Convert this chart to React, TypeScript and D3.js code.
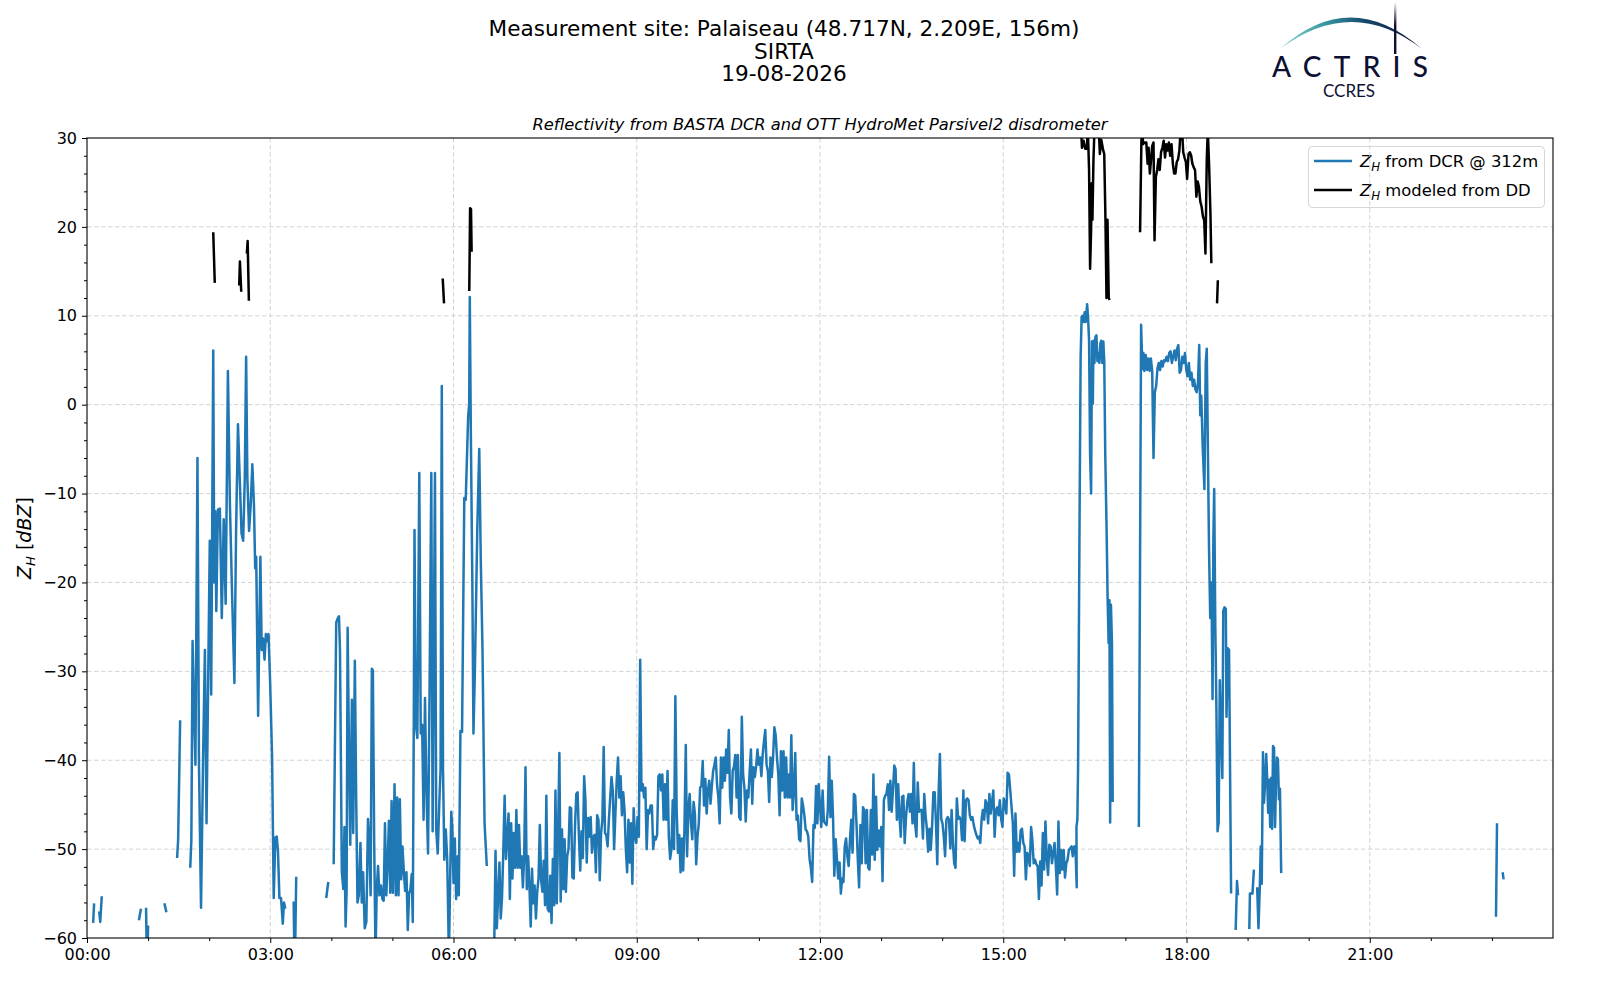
import { useEffect, useRef } from 'react';
import * as d3 from 'd3';

type Pt = [number, number] | null;

const titleLines = ['Measurement site: Palaiseau (48.717N, 2.209E, 156m)', 'SIRTA', '19-08-2026'];
const subtitle = 'Reflectivity from BASTA DCR and OTT HydroMet Parsivel2 disdrometer';
const hourTicks = [0, 3, 6, 9, 12, 15, 18, 21];
const dbzTicks = [-60, -50, -40, -30, -20, -10, 0, 10, 20, 30];
const legendLabels = ['from DCR @ 312m', 'modeled from DD'];

// DCR reflectivity at 312 m, [minutes since 00:00 UTC, dBZ], null = gap
const dcrNight: Pt[] = [
  [6, -58.3], [7, -56.1], null,
  [12, -57], [13, -58.2], [14.5, -55.3], null,
  [51, -58], [53, -56.7], null,
  [58, -56.6], [59, -64], [60, -58.6], null,
  [76, -56.1], [78, -57.1], null,
  [88.5, -51], [89.5, -49], [91.5, -35.5], null,
  [101.4, -52.1], [102.5, -49], [103.7, -26.6], [105, -33.9], [106.5, -40.5], [108.5, -6], [110, -40.5],
  [112, -56.6], [114, -40], [115.8, -27.6], [117.4, -47.1], [120.6, -15.3], [122, -32.6], [124, 6.1],
  [125, -20], [126, -12], [127, -23.2], [128.6, -11.8], [130.5, -11.7], [132.4, -24], [134.3, -12.9],
  [136.2, -22.4], [138.4, 3.8], [140.4, -11.3], [142.5, -21.3], [144.8, -31.3], [146.4, -14.5],
  [148.3, -2.2], [150, -8.2], [151.8, -14.5], [153.4, -15.3], [155, -8.2], [156.3, 5.4], [157.5, -8.2],
  [159.2, -14.2], [160.8, -11.3], [162.4, -6.7], [164, -11.3], [165.2, -18.4], [166.2, -17.1],
  [168.1, -35], [170.3, -17.1], [171.6, -27.6], [172.9, -26.3], [174.4, -28.7], [175.7, -25.8],
  [177, -26.6], [178.3, -25.8], [179.9, -31.3], [181.8, -39.7], [183.4, -55.5], [185, -48.7],
  [186.4, -48.6], [187.6, -50.3], [189, -55.5], [190.6, -55.5], [192.3, -58.4], [193.5, -56], [194.8, -56.7], null,
  [203, -55.9], [204, -65], [205.5, -53.1], null,
  [235, -55.5], [237, -53.7], null,
  [242.3, -51.7], [244.8, -24.5], [246.5, -24], [247.5, -23.8], [248.5, -27.6], [250.3, -52.5],
  [251.8, -54.5], [252.9, -47.5], [254, -58.7], [255, -54.7], [256, -25.1], [257.3, -38.3],
  [258.6, -49.5], [260.2, -33.2], [261.5, -48.2], [263.1, -28.8], [264.4, -44.2], [265.7, -56],
  [267, -55.2], [268.6, -49.3], [269.9, -56], [271.2, -52.6], [272.8, -58.9], [274.4, -58.2],
  [276, -46.6], [277.3, -49.5], [278.6, -55.2], [279.8, -29.7], [280.8, -29.9], [282.1, -49.3],
  [283.4, -62], [284.6, -54.5], [285.9, -51.9], [287.2, -55.2], [288.8, -54.1], [290.1, -55.6],
  [291.4, -55.8], [292.7, -47.1], [294, -55.2], [295.3, -51.5], [296.6, -46.8], [297.9, -54.9],
  [299.2, -44.6], [300.5, -54.9], [302.1, -42.7], [303.4, -55.2], [304.7, -44.2], [306, -55.2],
  [307.3, -44.4], [308.6, -53.4], [309.9, -49.7], [311.2, -52.5], [312.5, -54.7], [313.8, -52.6],
  [315.1, -59.1], [316.4, -55], [317.7, -54.5], [319, -52.8], [320, -58.2], [321, -35.4],
  [321.7, -14.1], [323, -36], [324.5, -37.5], [326.4, -7.7], [327.8, -37], [329.2, -36],
  [330.6, -46.7], [332, -33], [333.5, -44], [335, -50.5], [336.5, -32], [338.2, -7.7], [339.5, -48],
  [341.8, -7.7], [343, -47.8], [344.5, -50.5], [346, -45], [347.3, -41], [348.5, 2.1], [349.7, -41],
  [351, -51.2], [352.4, -47.8], [353.8, -51], [355.5, -62], [357.8, -45.8], [358.8, -47.5],
  [360, -53.8], [361.3, -48.8], [362.6, -55.6], [364.2, -50.8], [365.2, -55.2], [366.8, -36.7],
  [368.4, -36.8], [370.6, -10.5], [372, -10.7], [374.4, -1.3], [375.4, 0], [376, 12.1], [377, -2.8],
  [378.5, -20], [379.6, -37], [381, -30], [383.4, -13.8], [385.3, -5], [386.8, -17.5], [388.5, -27.6],
  [390.5, -47.1], [392.7, -51.9],
];

// regular 1.28 min samples of the drizzle from 06:40 to 16:11
const drizzleStart = 400;
const drizzleStep = 1.28;
const dcrDrizzle: number[] = [
  -61, -50.2, -58.9, -55.2, -51.5, -57.8, -55.4, -50, -44, -51.1, -48.6, -46, -55.6, -47.1, -53.3, -48.2,
  -52.1, -45.6, -52.1, -47.3, -52.1, -50.8, -54.3, -50.8, -40.8, -54.5, -50.8, -54.1, -58.7, -52.2,
  -56.1, -54.1, -57.8, -54.8, -53.3, -47.3, -53.5, -54.8, -51.3, -56.3, -44, -56.7, -57, -53, -58.3,
  -51.1, -56.3, -43.4, -56.1, -48.2, -39.2, -55.9, -47.8, -54.5, -48.9, -54.8, -50.8, -50, -45.3,
  -45.4, -53.2, -53.3, -47.4, -43.8, -43.6, -48.6, -52.4, -48, -51,
  -41.8, -44.5, -51.5, -46.5, -48.6, -46.4, -50.4, -48.6, -48.4, -52.6, -46.2, -46.7, -53.5, -48.2,
  -46.7, -38.5, -48.2, -48.4, -49.7, -46.7, -44.2, -41.9, -43.4, -50, -46, -42.3, -39.7, -44.2, -41.8,
  -46.2, -43.6, -45.6, -50, -52.6, -46.7, -51.5, -47.1, -53.9, -45.4, -48.6, -49.3, -46.4, -48.6,
  -28.7, -43.4, -42.7, -44.2, -43.1, -50, -45.6, -46, -45.1, -45.1, -50, -48.6, -48.9, -48.4, -41.8,
  -41.6, -43.4, -41.6, -46.7, -42.7, -46.7, -41.2, -48.6, -51.1, -50, -44.5, -50, -32.8, -45.6, -50.4,
  -48.4, -52.6, -48.8, -52.4, -47.6, -38.3, -50.8, -45.4, -43.8, -47.1, -48.9, -44.7, -46, -51.7,
  -48.6, -47.1, -43.1, -42.9, -40.1, -45.1, -42.1, -46, -43.4, -42.3, -44.9, -42.9, -41.2, -40.5,
  -39.7, -42.7, -44.2, -47.1, -39.7, -43.1, -39.7, -42.3, -38.8, -41.4, -36.6, -44.2, -46, -41.2,
  -40.7, -39.4, -44.2, -39.4, -46.4, -46.7, -35.1, -41.6, -43.1, -46.9, -43.4, -44.2, -41.4, -38.8,
  -44.9, -40.8, -41.9, -40.7, -38.8, -40.5, -39.7, -41.8, -39.4, -37.9, -36.6, -40.5, -41.2, -44.7,
  -39.7, -41.9, -39.6, -36.3, -37.2, -39.7, -41.6, -46.2, -39, -43.4, -39, -44.2, -39.7, -44.2,
  -41.6, -44.2, -37.2, -45.6, -43.4, -39.2, -46.7, -46.2, -48.9, -49.1, -44.3, -45.1, -46.2, -47.8,
  -48, -48.6, -51.1, -52.1, -53.7, -47.3, -47.6, -42.9, -47.1, -42.7, -45.1, -47.5, -43.4, -46.9,
  -47.1, -47.3, -45.6, -39.6, -46.4, -42.3, -46.4, -53, -48.9, -51.1, -53.3, -51.5, -55, -53.3,
  -53.7, -49.7, -48.8, -50.8, -51.9, -48.9, -46.7, -50.4, -43.8, -44, -47.1, -51.1, -54.3, -47.3,
  -51.6, -45.3, -45.6, -51.6, -45.6, -52.1, -52.3, -45.6, -50.6, -41.6, -51.2, -44.1, -50.1, -47.9,
  -49.7, -47.5, -53.6, -44.5, -44, -43.8, -42.7, -45.6, -42.3, -45.8, -43.4, -40.6, -41, -46.7, -42.7,
  -46.4, -48.6, -44.1, -44, -49.3, -46.4, -44.7, -43.8, -45.8, -43.8, -47.1, -40.3, -47.1, -48.6,
  -42.5, -45.8, -45.6, -45.6, -48.8, -43.8, -46.2, -47.7, -50.3, -47.7, -50.1, -47.5, -43.6, -43.6,
  -47.1, -51.7, -43.8, -39.3, -46.6, -47.1, -48.6, -50.8, -46.7, -46.4, -46.7, -49.9, -45.6, -49.3,
  -51.6, -52.1, -44.3, -46.6, -46.4, -46.7, -49, -43.4, -49.1, -44.5, -44.3, -44.5, -46.2, -46.7,
  -46.4, -47.3, -47.9, -48.4, -48.8, -48.6, -49.3, -46.7, -45.6, -46.7, -44.5, -44.9, -47.1, -43.8,
  -46, -44.7, -43.4, -48.6, -45.6, -45.3, -46.2, -44.5, -46.6, -47.5, -44.3, -44.9, -46, -41.4, -41.6,
  -43.4, -45.3, -47.1, -53, -46, -50.3, -49.3, -50.3, -47.9, -47.7, -49.3, -49.7, -53.4, -50.4, -50.8,
  -51.9, -47.5, -49.1, -51.6, -51.2, -51.7, -51.9, -55.6, -51.4, -54.1, -48.2, -52.3, -46.9, -51,
  -52.9, -49.5, -49.7, -51.6, -50.4, -49.3, -51.9, -55.1, -46.9, -52.7, -50.1, -52.3, -50.1, -53.2,
  -51.6, -51.2, -50.1, -49.9, -49.7, -50.8, -49.7, -49.7, -54.3,
];

const dcrAfternoon: Pt[] = [
  [971.9, -47.5], [972.8, -46.7], [973.5, -40.8], [975, -12], [976, 5.4], [977, 9.9], [978, 10],
  [979, 9.3], [980, 10.4], [981, 9.3], [982.4, 11.3], [983.3, 9.8], [984.3, 7.2], [985.3, -5.6],
  [986.3, -10], [987.2, 7.1], [988, 0.1], [988.6, 7.2], [989.6, 4.7], [990.5, 7.6], [991.5, 7.8],
  [992.5, 4.9], [993.4, 5.8], [994.4, 4.7], [995.4, 6.9], [996.3, 7.2], [997.3, 4.7], [998.3, 7.1],
  [999.2, 5], [1000.2, -5.6], [1001.5, -14], [1002.5, -21.7], [1003.5, -26.8], [1004.3, -22],
  [1005, -47], [1005.8, -22.5], [1006.8, -27], [1007.5, -44.7], null,
  [1033.2, -47.5], [1035.4, 9], [1036.7, 4], [1037.7, 5.8], [1038.6, 3.8], [1039.9, 5.6], [1041.2, 3.9],
  [1042.5, 5.2], [1043.8, 3.8], [1045, 5.2], [1046.3, 3.8], [1047.6, -6], [1048.9, 1.4], [1050.2, 2.1],
  [1051.5, 4.1], [1052.8, 4.7], [1054, 3.9], [1055.3, 4.9], [1056.6, 4.3], [1057.9, 5], [1059.2, 4.9],
  [1060.5, 5.4], [1061.8, 4.9], [1063, 5.8], [1064.3, 6], [1065.6, 4.7], [1066.9, 5.4], [1068.2, 6.1],
  [1069.5, 5], [1070.8, 6.3], [1072, 6.7], [1073.3, 3.6], [1074.6, 3.9], [1075.9, 5.4], [1077.2, 4.7],
  [1078.5, 5.8], [1079.8, 3.9], [1081, 3.2], [1082.3, 4.7], [1083.6, 2.8], [1084.9, 3.6], [1086.2, 2.1],
  [1087.5, 2.8], [1088.8, 1.7], [1090, 1.4], [1091.3, 2.5], [1092.5, 6.7], [1093.5, -1.2], [1094.5, 1],
  [1096, -5], [1097.6, -9.5], [1098.9, 4.7], [1099.9, 6.3], [1100.9, -3.8], [1102.1, -16],
  [1103.3, -24], [1104.5, -20], [1105.6, -33.1], [1106.4, -15], [1107.2, -9.5], [1108.3, -25],
  [1109.4, -34.4], [1110.5, -48], [1111.6, -47], [1112.7, -31], [1113.9, -36.6], [1115.2, -42],
  [1116.1, -23.2], [1117.3, -22.8], [1118.6, -23], [1119.3, -35.1], [1120.6, -27.4], [1121.8, -27.6],
  [1123.8, -55], null,
  [1128.3, -59.1], [1129.6, -53.6], [1130.6, -55.2], null,
  [1141.7, -59], [1142.3, -55], [1144.8, -55], [1146.2, -52.3], null,
  [1149.4, -54.3], [1150.7, -58.9], [1152, -54.3], [1152.9, -49.7], [1153.9, -53.9], [1155.1, -39.1],
  [1156.1, -44.8], [1157.4, -42.2], [1158.3, -39.3], [1159.3, -42.2], [1160.2, -45.9], [1161.2, -42.2],
  [1162.2, -47.5], [1163.1, -42], [1164.1, -47.7], [1165, -38.4], [1166, -38.6], [1167, -47.5],
  [1167.9, -42.6], [1168.9, -39.7], [1169.8, -39.9], [1170.8, -44.4], [1171.8, -43.2], [1173, -52.7], null,
  [1384, -57.6], [1385, -47.1], null,
  [1390.5, -52.6], [1391.5, -53.4],
];

// reflectivity modeled from the disdrometer drop size distribution
const ddPoints: Pt[] = [
  [124, 19.4], [125.5, 13.7], null,
  [149.5, 13.4], [150.2, 16.1], [151.5, 12.7], null,
  [157, 17], [157.8, 18.4], [159, 11.7], null,
  [349.4, 14.2], [350.7, 11.4], null,
  [375.5, 12.8], [376.3, 22.1], [377.2, 22], [377.8, 17.2], null,
  [976.7, 30.5], [977.3, 28.9], [978.9, 29.7], [980.5, 28.8], [982.1, 28.8], [983.1, 31], [984.3, 26.4],
  [985.3, 15.3], [986.3, 19.7], [986.9, 24.9], [987.6, 20.8], [988.6, 27.5], [989.6, 31], [990.8, 32],
  [991.8, 31], [993.6, 31.5], [994.9, 28.2], [996.3, 29.8], [998.2, 28.6], [999.2, 28.2], [1000.4, 20.8],
  [1001.4, 12], [1002.4, 20.8], [1003.6, 12], [1004.6, 11.8], null,
  [1034.4, 19.4], [1035.7, 29.7], [1036.7, 31], [1037.3, 29.3], [1038.9, 29.5], [1040.5, 29.5],
  [1041.8, 27.1], [1042.8, 28.9], [1044, 26], [1045, 27.3], [1046.3, 29.1], [1047.6, 29.5], [1048.6, 18.5],
  [1049.9, 25.6], [1051.2, 26.4], [1052.4, 27.6], [1053.7, 26.4], [1055, 28.4], [1056.3, 28.9],
  [1057.6, 29.7], [1058.9, 27.8], [1060.2, 29.3], [1061.4, 28.6], [1062.7, 29.5], [1064, 28], [1065.3, 29.3],
  [1066.6, 27.1], [1067.9, 26], [1069.1, 26], [1070.4, 27.3], [1071.7, 27.6], [1073, 28.6], [1074.3, 31],
  [1075.6, 31], [1076.8, 28.4], [1078.1, 27.8], [1079.4, 27.3], [1080.6, 25.4], [1082, 28.2], [1083.3, 28.4],
  [1084.6, 28], [1085.8, 27.1], [1087.1, 26.7], [1088.4, 26.4], [1089.7, 23.4], [1091, 25.1], [1092.2, 24.5],
  [1093.5, 22.9], [1094.8, 22.3], [1096.1, 21.2], [1097.4, 20.7], [1098.6, 17], [1099.9, 27.5], [1100.9, 31],
  [1102.2, 26.9], [1103.5, 21.6], [1104.4, 15.9], null,
  [1110, 11.4], [1110.8, 14],
];

const FONT = 'DejaVu Sans, sans-serif';
const BLUE = '#1f77b4';
const NAVY = '#0d1033';
const LINE_W = 2.5;

export default function App() {
  const svgRef = useRef<SVGSVGElement>(null);

  useEffect(() => {
    document.body.style.margin = '0';
    if (!svgRef.current) return;
    const svg = d3.select(svgRef.current);
    svg.selectAll('g.chart').remove();

    const left = 87, right = 1553, top = 138, bottom = 938;
    const day0 = Date.UTC(2026, 7, 19);
    const toDate = (min: number) => new Date(day0 + min * 60000);

    const x = d3.scaleUtc().domain([toDate(0), toDate(1440)]).range([left, right]);
    const y = d3.scaleLinear().domain([-60, 30]).range([bottom, top]);

    const g = svg.append('g').attr('class', 'chart');

    g.append('clipPath').attr('id', 'plot-clip')
      .append('rect').attr('x', left).attr('y', top).attr('width', right - left).attr('height', bottom - top);

    const majorX = hourTicks.map((h) => toDate(h * 60));
    const minorX = x.ticks(d3.utcHour.every(1)!).filter((d) => d.getUTCHours() % 3 !== 0);
    const minorY = d3.range(-60, 31, 2).filter((v) => !dbzTicks.includes(v));

    // grid
    const grid = g.append('g').attr('stroke', '#d3d3d3').attr('stroke-width', 1).attr('stroke-dasharray', '4.5,2.5');
    grid.selectAll('line.gx').data(majorX.slice(1)).join('line')
      .attr('x1', (d) => x(d)).attr('x2', (d) => x(d)).attr('y1', top).attr('y2', bottom);
    grid.selectAll('line.gy').data(dbzTicks.slice(1, -1)).join('line')
      .attr('x1', left).attr('x2', right).attr('y1', (d) => y(d)).attr('y2', (d) => y(d));

    // data
    const line = d3.line<Pt>()
      .defined((d) => d !== null)
      .x((d) => x(toDate(d![0])))
      .y((d) => y(d![1]));

    const drizzle: Pt[] = dcrDrizzle.map((v, i) => [drizzleStart + i * drizzleStep, v]);
    const dcr: Pt[] = [...dcrNight, null, ...drizzle, ...dcrAfternoon];

    const plot = g.append('g').attr('clip-path', 'url(#plot-clip)');
    plot.append('path').attr('d', line(dcr)).attr('fill', 'none').attr('stroke', BLUE)
      .attr('stroke-width', LINE_W).attr('stroke-linejoin', 'round');
    plot.append('path').attr('d', line(ddPoints)).attr('fill', 'none').attr('stroke', '#000')
      .attr('stroke-width', LINE_W).attr('stroke-linejoin', 'round');

    // axes
    const xAxis = g.append('g').attr('transform', `translate(0,${bottom})`)
      .call(d3.axisBottom(x).tickValues(majorX).tickFormat((d) => d3.utcFormat('%H:%M')(d as Date))
        .tickSize(5).tickPadding(6).tickSizeOuter(0));
    g.append('g').attr('transform', `translate(0,${bottom})`)
      .call(d3.axisBottom(x).tickValues(minorX).tickFormat(() => '').tickSize(3).tickSizeOuter(0));
    const yAxis = g.append('g').attr('transform', `translate(${left},0)`)
      .call(d3.axisLeft(y).tickValues(dbzTicks).tickFormat(d3.format('d')).tickSize(5).tickPadding(5).tickSizeOuter(0));
    g.append('g').attr('transform', `translate(${left},0)`)
      .call(d3.axisLeft(y).tickValues(minorY).tickFormat(() => '').tickSize(3).tickSizeOuter(0));

    g.selectAll('.domain').remove();
    g.selectAll('.tick line').attr('stroke', '#000').attr('stroke-width', 1);
    [xAxis, yAxis].forEach((a) => a.selectAll('text')
      .attr('font-family', FONT).attr('font-size', 16).attr('fill', '#000'));

    g.append('rect').attr('x', left).attr('y', top).attr('width', right - left).attr('height', bottom - top)
      .attr('fill', 'none').attr('stroke', '#000').attr('stroke-width', 1.1);
  }, []);

  return (
    <svg ref={svgRef} width={1600} height={1000} style={{ display: 'block', background: '#fff' }}>
      <defs>
        <linearGradient id="arc-grad" x1="1281" y1="0" x2="1421" y2="0" gradientUnits="userSpaceOnUse">
          <stop offset="0" stopColor="#8fd6cf" />
          <stop offset="0.3" stopColor="#3a9aa3" />
          <stop offset="0.6" stopColor="#15496b" />
          <stop offset="1" stopColor={NAVY} />
        </linearGradient>
        <linearGradient id="mast-grad" x1="0" y1="2" x2="0" y2="54" gradientUnits="userSpaceOnUse">
          <stop offset="0" stopColor={NAVY} stopOpacity="0" />
          <stop offset="0.45" stopColor={NAVY} stopOpacity="1" />
          <stop offset="1" stopColor={NAVY} />
        </linearGradient>
      </defs>

      {titleLines.map((t, i) => (
        <text key={t} x={784} y={36 + i * 22.5} textAnchor="middle" fontFamily={FONT} fontSize={21.6}>{t}</text>
      ))}
      <text x={820} y={130} textAnchor="middle" fontFamily={FONT} fontSize={16.3} fontStyle="italic">{subtitle}</text>

      {/* ACTRIS logo */}
      <path d="M1280,49 Q1350,-14 1422,49 Q1352,-5 1280,49 Z" fill="url(#arc-grad)" />
      <rect x={1394} y={2} width={2.4} height={52} fill="url(#mast-grad)" />
      <text x={1272} y={77} textLength={156} lengthAdjust="spacing" fontFamily="Lato, Noto Sans, sans-serif"
        fontSize={28} fontWeight={500} fill={NAVY}>ACTRIS</text>
      <text x={1349} y={97} textAnchor="middle" fontFamily="Lato, Noto Sans, sans-serif" fontSize={17} fill={NAVY}>CCRES</text>

      {/* y label */}
      <text transform="translate(31,538) rotate(-90)" textAnchor="middle" fontFamily={FONT} fontSize={19}>
        <tspan fontStyle="italic">Z</tspan>
        <tspan fontStyle="italic" fontSize={13} dy={4}>H</tspan>
        <tspan dy={-4}> [</tspan>
        <tspan fontStyle="italic">dBZ</tspan>
        <tspan>]</tspan>
      </text>

      {/* legend */}
      <rect x={1308.5} y={146.5} width={236} height={61} rx={4} fill="#fff" fillOpacity={0.85} stroke="#d6d6d6" />
      {legendLabels.map((label, i) => (
        <g key={label}>
          <line x1={1314} x2={1352} y1={161 + i * 29} y2={161 + i * 29} stroke={i === 0 ? BLUE : '#000'} strokeWidth={LINE_W} />
          <text x={1360} y={167 + i * 29} fontFamily={FONT} fontSize={16.4}>
            <tspan fontStyle="italic">Z</tspan>
            <tspan fontStyle="italic" fontSize={11.8} dy={4}>H</tspan>
            <tspan dy={-4}> {label}</tspan>
          </text>
        </g>
      ))}
    </svg>
  );
}
